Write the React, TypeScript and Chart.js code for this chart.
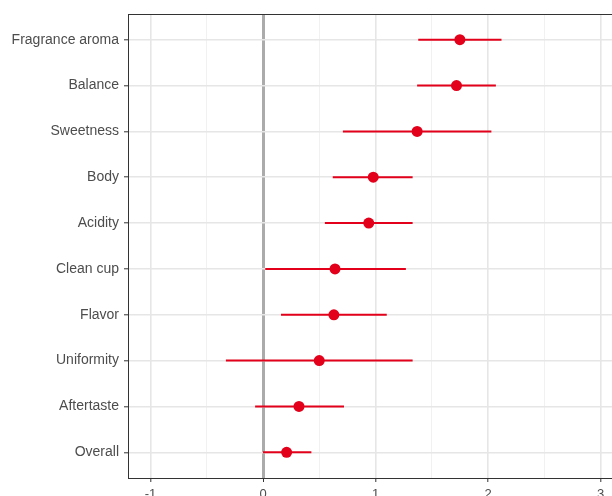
import React, { useEffect, useRef } from "react";
import { Chart, registerables } from "chart.js";

Chart.register(...registerables);

// Attributes, top to bottom
const categories = [
  "Fragrance aroma",
  "Balance",
  "Sweetness",
  "Body",
  "Acidity",
  "Clean cup",
  "Flavor",
  "Uniformity",
  "Aftertaste",
  "Overall",
];

// Point estimates and interval bounds
const estimate = [1.75, 1.72, 1.37, 0.98, 0.94, 0.64, 0.63, 0.5, 0.32, 0.21];
const lower = [1.38, 1.37, 0.71, 0.62, 0.55, 0.02, 0.16, -0.33, -0.07, 0.0];
const upper = [2.12, 2.07, 2.03, 1.33, 1.33, 1.27, 1.1, 1.33, 0.72, 0.43];

// Axis ticks (majors labelled, halves as minor grid)
const xTicks = [-1, -0.5, 0, 0.5, 1, 1.5, 2, 2.5, 3];

const RED = "#e2001a";
const FONT = "'Liberation Sans', Arial, Helvetica, sans-serif";

const panelBorder = {
  id: "panelBorder",
  afterDraw(chart: any) {
    const { ctx, chartArea } = chart;
    ctx.save();
    ctx.strokeStyle = "#333333";
    ctx.lineWidth = 1;
    ctx.strokeRect(
      Math.round(chartArea.left) + 0.5,
      Math.round(chartArea.top) + 0.5,
      Math.round(chartArea.right - chartArea.left),
      Math.round(chartArea.bottom - chartArea.top)
    );
    ctx.restore();
  },
};

export default function App() {
  const canvasRef = useRef<HTMLCanvasElement | null>(null);

  useEffect(() => {
    const canvas = canvasRef.current;
    if (!canvas) return;

    const intervals = categories.map((_, i) => ({
      data: [
        { x: lower[i], y: i },
        { x: upper[i], y: i },
      ],
      showLine: true,
      borderColor: RED,
      borderWidth: 2,
      pointRadius: 0,
      order: 2,
    }));

    const points = {
      data: estimate.map((v, i) => ({ x: v, y: i })),
      pointRadius: 5.5,
      pointBackgroundColor: RED,
      pointBorderWidth: 0,
      showLine: false,
      order: 1,
    };

    const chart = new Chart(canvas, {
      type: "scatter",
      data: { datasets: [points, ...intervals] as any },
      plugins: [panelBorder],
      options: {
        animation: false,
        responsive: false,
        layout: { padding: { top: 14, left: 0, right: 17, bottom: 0 } },
        plugins: {
          legend: { display: false },
          tooltip: { enabled: false },
        },
        scales: {
          x: {
            type: "linear",
            min: -1.2,
            max: 3.2,
            afterBuildTicks: (scale: any) => {
              scale.ticks = xTicks.map((v) => ({ value: v }));
            },
            afterFit: (scale: any) => {
              scale.height = 18;
            },
            border: { display: false },
            grid: {
              color: (c: any) => {
                const v = c.tick?.value;
                if (v === 0) return "#ababab";
                return Number.isInteger(v) ? "#e6e6e6" : "#efefef";
              },
              lineWidth: (c: any) => {
                const v = c.tick?.value;
                if (v === 0) return 3;
                return Number.isInteger(v) ? 1.6 : 0.9;
              },
              tickColor: (c: any) =>
                Number.isInteger(c.tick?.value) ? "#333333" : "rgba(0,0,0,0)",
              tickLength: 4,
              tickWidth: 1,
            },
            ticks: {
              autoSkip: false,
              maxRotation: 0,
              padding: 5,
              color: "#4d4d4d",
              font: { family: FONT, size: 13 },
              callback: (v: any) => (Number.isInteger(v) ? String(v) : ""),
            },
          },
          y: {
            type: "linear",
            min: -0.56,
            max: 9.56,
            reverse: true,
            afterBuildTicks: (scale: any) => {
              scale.ticks = categories.map((_, i) => ({ value: i }));
            },
            afterFit: (scale: any) => {
              scale.width = 128;
            },
            border: { display: false },
            grid: {
              color: "#e6e6e6",
              lineWidth: 1.6,
              tickColor: "#333333",
              tickLength: 4,
              tickWidth: 1,
            },
            ticks: {
              autoSkip: false,
              padding: 5,
              color: "#4d4d4d",
              font: { family: FONT, size: 14 },
              callback: (v: any) => categories[v] ?? "",
            },
          },
        },
      },
    });

    return () => chart.destroy();
  }, []);

  return (
    <div
      style={{
        position: "fixed",
        left: 0,
        top: 0,
        width: 612,
        height: 496,
        overflow: "hidden",
        background: "#ffffff",
      }}
    >
      <canvas ref={canvasRef} width={640} height={496} style={{ display: "block" }} />
    </div>
  );
}
